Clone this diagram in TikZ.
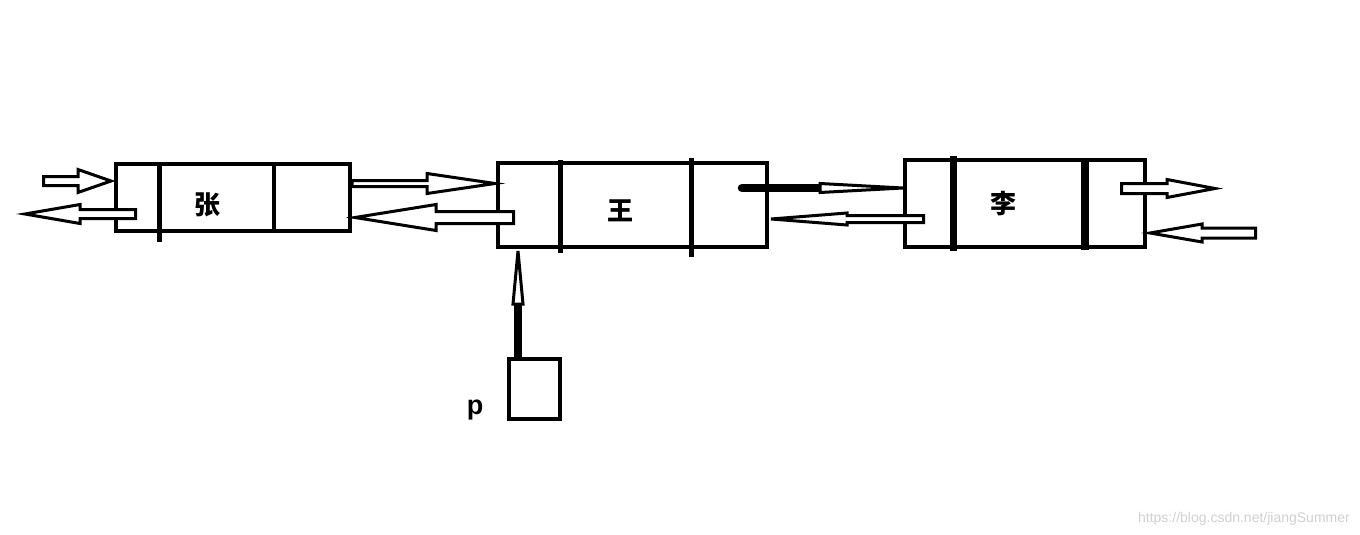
\documentclass[tikz,border=0pt]{standalone}
\usepackage{fontspec}
\setmainfont{Liberation Sans}
\newfontfamily\cjk{Noto Sans CJK SC}
\tikzset{
  nodebox/.style={draw=black, line width=4pt, fill=white, rectangle, inner sep=0pt},
  divider/.style={line width=#1, draw=black},
  hollow/.style={draw=black, fill=white, line width=3pt, line join=miter},
  thickline/.style={draw=black, line width=8.5pt},
  cjkname/.style={font=\cjk\bfseries\fontsize{26pt}{26pt}\selectfont, inner sep=0pt},
  plabel/.style={font=\bfseries\fontsize{27pt}{27pt}\selectfont, inner sep=0pt},
  marktext/.style={font=\fontsize{14pt}{14pt}\selectfont, text=black!18, inner sep=0pt}
}
% horizontal hollow block arrow: tail x, head-base x, tip x, y, shaft half, head half
\newcommand\hblock[6]{%
  \draw[hollow] ({#1},{#4-#5}) -- ({#2},{#4-#5}) -- ({#2},{#4-#6}) -- ({#3},{#4})
    -- ({#2},{#4+#6}) -- ({#2},{#4+#5}) -- ({#1},{#4+#5}) -- cycle;}
\begin{document}
\begin{tikzpicture}[x=1pt, y=-1pt]
\useasboundingbox[fill=white] (0,0) rectangle (1360,535);
% boxes
\node[nodebox, minimum width=234pt, minimum height=67pt] (zhang) at (233,197.5) {};
\node[nodebox, minimum width=269pt, minimum height=84pt] (wang) at (632.5,205) {};
\node[nodebox, minimum width=240pt, minimum height=87pt] (li) at (1025,203.5) {};
\node[nodebox, minimum width=51pt, minimum height=60pt] (pbox) at (534.5,389) {};
% dividers
\draw[divider=5pt] (159,164) -- (159,242);
\draw[divider=4pt] (274,164) -- (274,231);
\draw[divider=5pt] (560,160) -- (560,253);
\draw[divider=5pt] (691,158) -- (691,257);
\draw[divider=7pt] (953,156) -- (953,251);
\draw[divider=8pt] (1085,159) -- (1085,250);
% texts
\node[cjkname] (tz) at (207,205) {张};
\node[cjkname] (tw) at (620,211) {王};
\node[cjkname] (tl) at (1003,204) {李};
\node[plabel, anchor=base] (pl) at (475,414) {p};
\node[marktext, anchor=base east] (wm) at (1350,522) {https://blog.csdn.net/jiangSummer};
% arrows around zhang
\hblock{43.5}{78}{111}{181}{4.5}{11.5}
\hblock{135.5}{80}{25}{214}{4.5}{9.5}
% zhang <-> wang
\hblock{352}{427}{495}{183.5}{3}{10}
\hblock{513.5}{436}{355}{217.5}{6}{13}
% wang -> li (thick shaft, narrow head)
\coordinate (e0) at (742,188);
\coordinate (e1) at (822,188);
\draw[thickline, line cap=round] (e0) -- (e1);
\draw[hollow] (820,183.5) -- (903,188) -- (820,192.5) -- cycle;
% li -> wang
\hblock{923.5}{847}{771}{219}{3.5}{6}
% around li
\hblock{1121.5}{1167}{1215}{188.5}{5}{9}
\hblock{1255.5}{1202}{1150}{233}{5}{9}
% p -> wang
\coordinate (ps) at (518,357);
\coordinate (pe) at (518,305);
\draw[line width=8pt] (ps) -- (pe);
\draw[hollow] (513,304) -- (518,251) -- (523,304) -- cycle;
\end{tikzpicture}
\end{document}
